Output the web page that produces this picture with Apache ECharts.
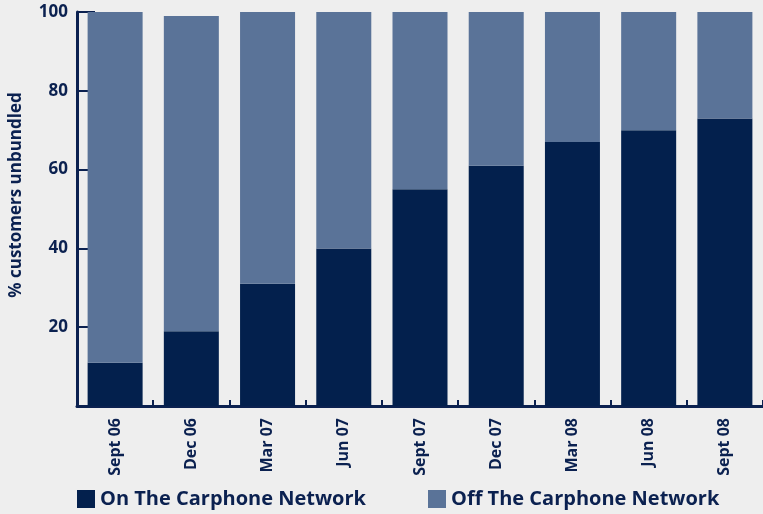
<!DOCTYPE html>
<html>
<head>
<meta charset="utf-8">
<script src="https://cdn.jsdelivr.net/npm/echarts@6/dist/echarts.min.js"></script>
<style>
html,body{margin:0;padding:0;background:#eeeeee;}
#chart{width:763px;height:514px;}
</style>
</head>
<body>
<div id="chart"></div>
<script>
var categories = ['Sept 06','Dec 06','Mar 07','Jun 07','Sept 07','Dec 07','Mar 08','Jun 08','Sept 08'];
var onNetwork  = [11, 19, 31, 40, 55, 61, 67, 70, 73];
var offNetwork = [89, 80, 69, 60, 45, 39, 33, 30, 27];
var yTicks = [0, 20, 40, 60, 80, 100];

var navy = '#0b2150';
var font = 'Open Sans';
var chart = echarts.init(document.getElementById('chart'));
chart.setOption({
  backgroundColor: '#eeeeee',
  animation: false,
  textStyle: {fontFamily: font, fontWeight: 'bold', color: navy},
  grid: {left: 77, top: 12, width: 687, bottom: 108, containLabel: false},
  legend: {
    bottom: 0, left: 72,
    itemWidth: 18, itemHeight: 18, itemGap: 62,
    icon: 'rect',
    textStyle: {fontSize: 20, fontWeight: 'bold', color: navy, fontFamily: font},
    data: ['On The Carphone Network', 'Off The Carphone Network']
  },
  xAxis: {
    type: 'category',
    data: categories,
    axisLine: {lineStyle: {color: navy, width: 3}},
    axisTick: {show: true, inside: true, length: 6, lineStyle: {color: navy, width: 2}},
    axisLabel: {rotate: 90, fontSize: 16, fontWeight: 'bold', color: navy, margin: 12, fontFamily: font}
  },
  yAxis: {
    type: 'value',
    min: yTicks[0], max: yTicks[yTicks.length - 1], interval: 20,
    name: '% customers unbundled',
    nameLocation: 'middle',
    nameGap: 52,
    nameTextStyle: {fontSize: 17, fontWeight: 'bold', color: navy, padding: [0, 0, 0, 28], fontFamily: font},
    axisLine: {show: true, lineStyle: {color: navy, width: 3}},
    axisTick: {show: true, inside: true, length: 18, lineStyle: {color: navy, width: 2}},
    splitLine: {show: false},
    axisLabel: {showMinLabel: false, fontSize: 17, fontWeight: 'bold', color: navy, margin: 9, fontFamily: font}
  },
  series: [
    {
      name: 'On The Carphone Network', type: 'bar', stack: 'total',
      data: onNetwork, barWidth: 55,
      itemStyle: {color: '#03204d'}
    },
    {
      name: 'Off The Carphone Network', type: 'bar', stack: 'total',
      data: offNetwork, barWidth: 55,
      itemStyle: {color: '#5a7398'}
    }
  ]
});
</script>
</body>
</html>
